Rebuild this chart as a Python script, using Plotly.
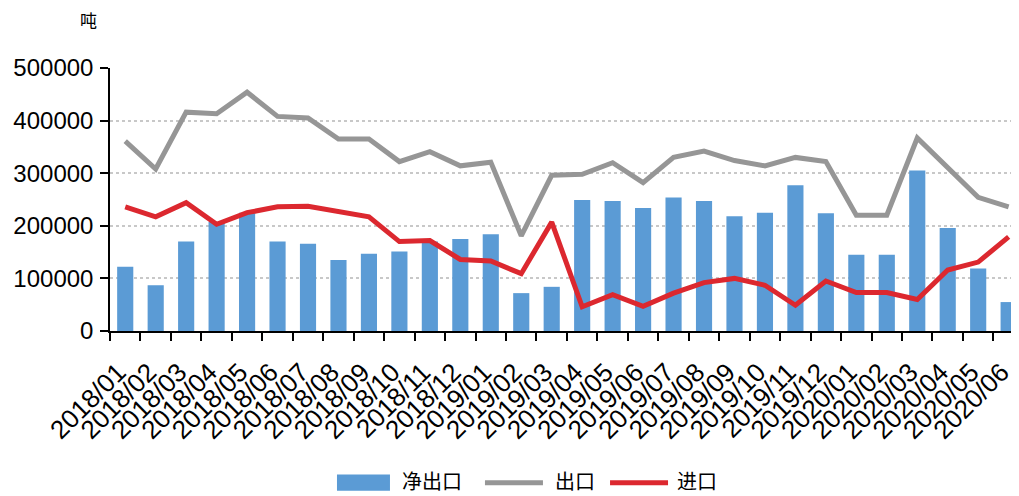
import plotly.graph_objects as go

months = ["2018/01","2018/02","2018/03","2018/04","2018/05","2018/06","2018/07","2018/08","2018/09","2018/10","2018/11","2018/12",
          "2019/01","2019/02","2019/03","2019/04","2019/05","2019/06","2019/07","2019/08","2019/09","2019/10","2019/11","2019/12",
          "2020/01","2020/02","2020/03","2020/04","2020/05","2020/06"]

net_export = [122000, 87000, 170000, 207000, 225000, 170000, 166000, 135000, 147000, 151000, 170000, 175000,
              184000, 72000, 84000, 249000, 247000, 234000, 254000, 247000, 218000, 225000, 277000, 224000,
              145000, 145000, 305000, 196000, 119000, 55000]

export = [361000, 308000, 416000, 413000, 454000, 408000, 405000, 365000, 365000, 322000, 341000, 314000,
          321000, 181000, 296000, 298000, 320000, 282000, 330000, 342000, 324000, 314000, 330000, 322000,
          220000, 220000, 367000, 312000, 254000, 236000]

imports = [236000, 217000, 244000, 203000, 225000, 236000, 237000, 228000, 217000, 170000, 172000, 136000,
           133000, 109000, 207000, 46000, 69000, 47000, 72000, 92000, 100000, 87000, 49000, 95000,
           73000, 73000, 60000, 116000, 131000, 179000]

ytick_vals = [0, 100000, 200000, 300000, 400000, 500000]

names = ["净出口", "出口", "进口"]
colors = ["#5B9BD5", "#969696", "#DC282F"]

fig = go.Figure()
fig.add_trace(go.Bar(x=months, y=net_export, name=names[0], marker=dict(color=colors[0], line=dict(width=0))))
fig.add_trace(go.Scatter(x=months, y=export, name=names[1], mode="lines", line=dict(color=colors[1], width=5)))
fig.add_trace(go.Scatter(x=months, y=imports, name=names[2], mode="lines", line=dict(color=colors[2], width=5)))

# manual legend (paper coordinates)
leg_y = -0.5766
cjk = dict(family="Noto Sans CJK SC", size=20, color="black")
shapes = [
    dict(type="rect", xref="paper", yref="paper", x0=0.2497, x1=0.3080, y0=-0.6071, y1=-0.5461,
         fillcolor=colors[0], line=dict(width=0)),
    dict(type="line", xref="paper", yref="paper", x0=0.4125, x1=0.4763, y0=leg_y, y1=leg_y,
         line=dict(color=colors[1], width=5)),
    dict(type="line", xref="paper", yref="paper", x0=0.5501, x1=0.6139, y0=leg_y, y1=leg_y,
         line=dict(color=colors[2], width=5)),
]
annotations = [
    dict(text=names[0], xref="paper", yref="paper", x=0.3190, y=leg_y, xanchor="left", yanchor="middle",
         yshift=2, showarrow=False, font=cjk),
    dict(text=names[1], xref="paper", yref="paper", x=0.4873, y=leg_y, xanchor="left", yanchor="middle",
         yshift=2, showarrow=False, font=cjk),
    dict(text=names[2], xref="paper", yref="paper", x=0.6216, y=leg_y, xanchor="left", yanchor="middle",
         yshift=2, showarrow=False, font=cjk),
    dict(text="吨", xref="paper", yref="paper", x=-0.0242, y=1.184, xanchor="center", yanchor="middle",
         showarrow=False, font=dict(family="Noto Sans CJK SC", size=17, color="black")),
]

fig.update_layout(
    width=1011, height=488,
    margin=dict(l=102, r=0, t=60, b=165, autoexpand=False),
    plot_bgcolor="white", paper_bgcolor="white",
    bargap=0.47,
    font=dict(family="Liberation Sans, Arial", color="black"),
    showlegend=False,
    shapes=shapes,
    annotations=annotations,
)

fig.update_xaxes(type="category", range=[-0.5, 29.34], tickmode="linear", tick0=0, dtick=1,
                 tickson="boundaries", ticks="outside", ticklen=8, tickwidth=1.5, tickcolor="black",
                 showline=True, linecolor="black", linewidth=1.5, showgrid=False,
                 tickangle=-45, tickfont=dict(size=26), ticklabelstandoff=14, ticklabelshift=-7)
fig.update_yaxes(range=[0, 500000], tickvals=ytick_vals, ticks="outside", ticklen=8, tickwidth=1.5,
                 tickcolor="black", showline=True, linecolor="black", linewidth=1.5,
                 showgrid=True, gridcolor="#C8C8C8", gridwidth=1.5, griddash="dot",
                 zeroline=False, tickfont=dict(size=24), ticklabelstandoff=2, tickformat="d")

fig.write_html("out.html")
